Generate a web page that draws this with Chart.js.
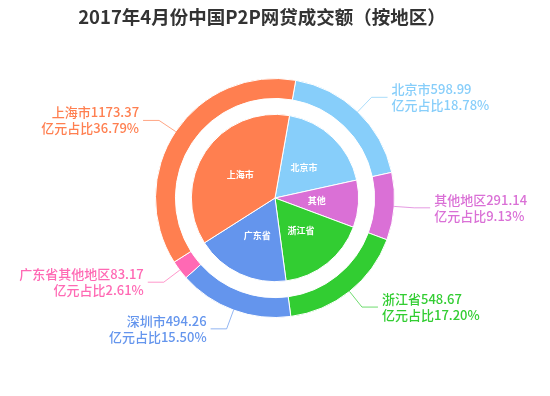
<!DOCTYPE html>
<html>
<head>
<meta charset="utf-8">
<script src="https://cdn.jsdelivr.net/npm/chart.js@4"></script>
<style>
  body { margin: 0; background: #fff; }
</style>
</head>
<body>
<canvas id="regionChart" width="550" height="396"></canvas>
<script>
// 外环：各地区成交额（亿元）
const outerLabels = ['北京市', '其他地区', '浙江省', '深圳市', '广东省其他地区', '上海市'];
const outerValues = [598.99, 291.14, 548.67, 494.26, 83.17, 1173.37];
const outerColors = ['#87cefa', '#da70d6', '#32cd32', '#6495ed', '#ff69b4', '#ff7f50'];

// 内圈：按省份合并
const innerLabels = ['北京市', '其他', '浙江省', '广东省', '上海市'];
const innerValues = [598.99, 291.14, 548.67, 577.43, 1173.37];
const innerColors = ['#87cefa', '#da70d6', '#32cd32', '#6495ed', '#ff7f50'];

const titleText = '2017年4月份中国P2P网贷成交额（按地区）';
const fontFamily = '"Noto Sans CJK SC", "Microsoft YaHei", sans-serif';

const total = outerValues.reduce((a, b) => a + b, 0);

// 标题 + 外环引导线标签 + 内圈白色标签
const labelPlugin = {
    id: 'labelPlugin',
    afterDraw(chart) {
        const ctx = chart.ctx;
        ctx.save();

        ctx.fillStyle = '#333';
        ctx.font = 'bold 18.5px ' + fontFamily;
        ctx.textAlign = 'center';
        ctx.textBaseline = 'middle';
        ctx.fillText(titleText, 262, 17);

        // 外环标签
        const outerMeta = chart.getDatasetMeta(0);
        outerMeta.data.forEach((arc, i) => {
            const p = arc.getProps(['x', 'y', 'startAngle', 'endAngle', 'outerRadius']);
            const mid = (p.startAngle + p.endAngle) / 2;
            const cos = Math.cos(mid), sin = Math.sin(mid);
            const x0 = p.x + cos * p.outerRadius;
            const y0 = p.y + sin * p.outerRadius;
            const x1 = p.x + cos * (p.outerRadius + 20);
            const y1 = p.y + sin * (p.outerRadius + 20);
            const right = cos >= 0;
            const x2 = x1 + (right ? 16 : -16);

            ctx.strokeStyle = outerColors[i];
            ctx.globalAlpha = 0.7;
            ctx.lineWidth = 1;
            ctx.beginPath();
            ctx.moveTo(x0, y0);
            ctx.lineTo(x1, y1);
            ctx.lineTo(x2, y1);
            ctx.stroke();
            ctx.globalAlpha = 1;

            const pct = (outerValues[i] / total * 100).toFixed(2);
            ctx.fillStyle = outerColors[i];
            ctx.font = '500 13px ' + fontFamily;
            ctx.textAlign = right ? 'left' : 'right';
            ctx.textBaseline = 'middle';
            const tx = x2 + (right ? 4 : -4);
            ctx.fillText(outerLabels[i] + outerValues[i].toFixed(2), tx, y1 - 8);
            ctx.fillText('亿元占比' + pct + '%', tx, y1 + 8);
        });

        // 内圈标签
        const innerMeta = chart.getDatasetMeta(2);
        innerMeta.data.forEach((arc, i) => {
            const c = arc.getCenterPoint();
            ctx.fillStyle = '#fff';
            ctx.font = 'bold 9px ' + fontFamily;
            ctx.textAlign = 'center';
            ctx.textBaseline = 'middle';
            ctx.fillText(innerLabels[i], c.x, c.y);
        });

        ctx.restore();
    }
};

const ctx = document.getElementById('regionChart').getContext('2d');
new Chart(ctx, {
    type: 'doughnut',
    data: {
        labels: outerLabels,
        datasets: [{
            label: '地区',
            data: outerValues,
            backgroundColor: outerColors,
            borderColor: '#fff',
            borderWidth: 1,
            weight: 20
        }, {
            label: 'gap',
            data: [1],
            backgroundColor: 'rgba(0,0,0,0)',
            borderWidth: 0,
            weight: 16
        }, {
            label: '省份',
            data: innerValues,
            backgroundColor: innerColors,
            borderColor: '#fff',
            borderWidth: 1,
            weight: 84
        }]
    },
    options: {
        responsive: false,
        animation: false,
        cutout: 0,
        rotation: 10,
        layout: { padding: { top: 78, bottom: 78 } },
        plugins: {
            legend: { display: false },
            tooltip: { enabled: false },
            title: { display: false }
        }
    },
    plugins: [labelPlugin]
});
</script>
</body>
</html>
